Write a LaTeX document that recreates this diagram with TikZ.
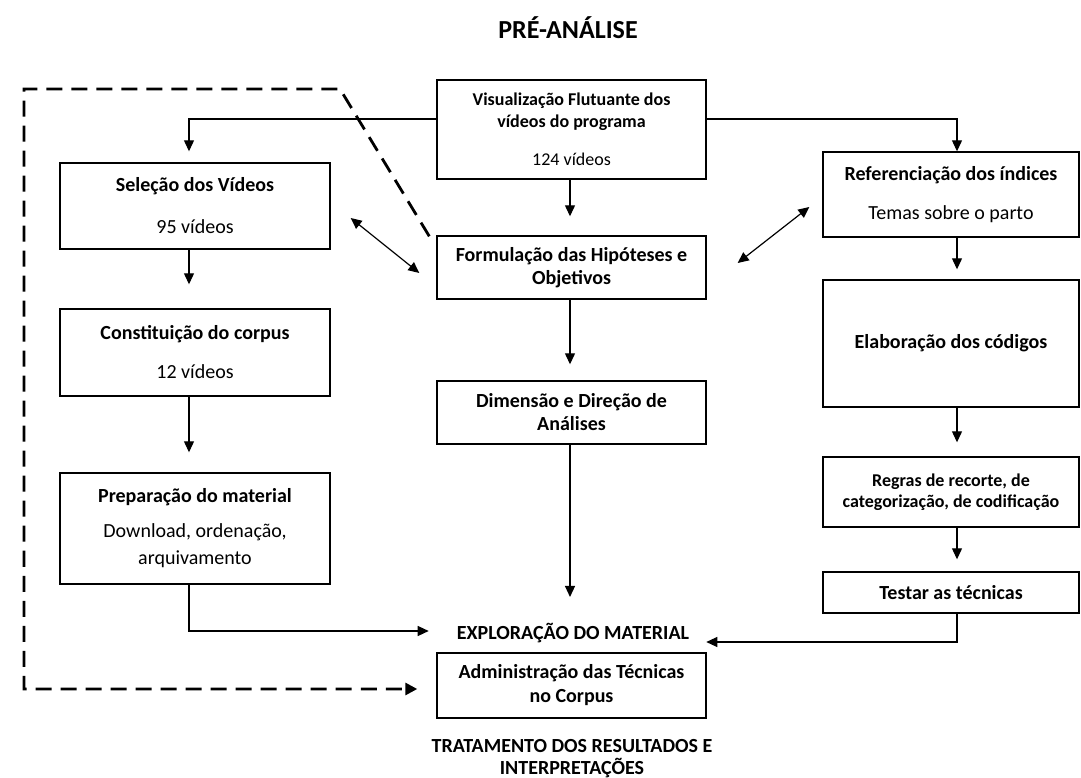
\documentclass[tikz,border=0pt]{standalone}
\usepackage{fontspec}
\setmainfont{Carlito}
\usetikzlibrary{arrows.meta}
\begin{document}
\begin{tikzpicture}[x=1pt,y=-1pt,
  box/.style={draw, line width=1.4pt, inner sep=0pt, align=center, font=\fontsize{20}{23}\selectfont},
  arr/.style={line width=1.2pt, -{Triangle[width=10pt,length=11pt]}},
  darr/.style={line width=1.2pt, {Triangle[width=10pt,length=11pt]}-{Triangle[width=10pt,length=11pt]}},
  dsh/.style={line width=2.8pt, dash pattern=on 16pt off 9pt, -{Triangle[width=12pt,length=12pt]}},
  lbl/.style={inner sep=0pt, align=center, font=\bfseries\fontsize{20}{22}\selectfont}]
\useasboundingbox (0,0) rectangle (1081,778);
\coordinate (cl) at (189,0);
\coordinate (cm) at (570,0);
\coordinate (cr) at (957,0);

\node[lbl, font=\bfseries\fontsize{26}{30}\selectfont] (title) at (568,28) {PRÉ-ANÁLISE};

% middle column
\node[box, minimum width=269pt, minimum height=99pt, font=\fontsize{18}{22}\selectfont] (vis) at (571.5,129.5)
  {\textbf{Visualização Flutuante dos}\\\textbf{vídeos do programa}\\[16pt]124 vídeos};
\node[box, minimum width=269pt, minimum height=63pt] (form) at (571.5,267.5)
  {\textbf{Formulação das Hipóteses e}\\\textbf{Objetivos}};
\node[box, minimum width=269pt, minimum height=63pt] (dim) at (571.5,412.5)
  {\textbf{Dimensão e Direção de}\\\textbf{Análises}};
\node[lbl] (expl) at (573,633) {EXPLORAÇÃO DO MATERIAL};
\node[box, minimum width=269pt, minimum height=65pt, font=\fontsize{20}{24}\selectfont] (adm) at (571.5,685.5)
  {\textbf{Administração das Técnicas}\\\textbf{no Corpus}};
\node[lbl] (trat) at (572,759) {TRATAMENTO DOS RESULTADOS E\\INTERPRETAÇÕES};

% left column
\node[box, minimum width=270pt, minimum height=86pt] (sel) at (195,206)
  {\textbf{Seleção dos Vídeos}\\[19pt]95 vídeos};
\node[box, minimum width=270pt, minimum height=87pt] (con) at (195,352.5)
  {\textbf{Constituição do corpus}\\[16pt]12 vídeos};
\node[box, minimum width=270pt, minimum height=111pt, font=\fontsize{20}{24}\selectfont] (prep) at (195,528.5)
  {\textbf{Preparação do material}\\[11pt]Download, ordenação,\\[3pt]arquivamento};

% right column
\node[box, minimum width=256pt, minimum height=85pt] (ref) at (951,194.5)
  {\textbf{Referenciação dos índices}\\[16pt]Temas sobre o parto};
\node[box, minimum width=256pt, minimum height=127pt] (elab) at (951,343.5)
  {\textbf{Elaboração dos códigos}};
\node[box, minimum width=256pt, minimum height=70pt, font=\fontsize{18}{21}\selectfont] (regr) at (951,492)
  {\textbf{Regras de recorte, de}\\\textbf{categorização, de codificação}};
\node[box, minimum width=256pt, minimum height=41pt] (test) at (951,592.5)
  {\textbf{Testar as técnicas}};

% connectors
\draw[arr, shorten >=11pt] ([yshift=10.5pt]vis.west) -| ([xshift=-6pt]sel.north);
\draw[arr] ([yshift=10.5pt]vis.east) -| ([xshift=6pt]ref.north);
\draw[arr, shorten >=19pt] (vis.south -| cm) -- (form.north -| cm);
\draw[arr, shorten >=16pt] (form.south -| cm) -- (dim.north -| cm);
\draw[arr, shorten >=26pt] (dim.south -| cm) -- (expl.north -| cm);

\draw[arr, shorten >=24pt] (sel.south -| cl) -- (con.north -| cl);
\draw[arr, shorten >=20pt] (con.south -| cl) -- (prep.north -| cl);
\draw[arr, shorten >=28pt] (prep.south -| cl) |- ([yshift=2pt]expl.west);

\draw[arr, shorten >=10pt] (ref.south -| cr) -- (elab.north -| cr);
\draw[arr, shorten >=14pt] (elab.south -| cr) -- (regr.north -| cr);
\draw[arr, shorten >=12pt] (regr.south -| cr) -- (test.north -| cr);
\draw[arr, shorten >=17pt] (test.south -| cr) |- ([yshift=-9pt]expl.east);

\draw[darr] ([xshift=20pt,yshift=-12pt]sel.east) -- ([xshift=-17pt,yshift=-5.5pt]form.west);
\draw[darr] ([xshift=31pt,yshift=4.5pt]form.east) -- ([xshift=-13pt,yshift=-12.5pt]ref.west);

\draw[dsh, shorten >=19pt] ([xshift=-7pt,yshift=-1pt]form.north west) -- (340,89) -- (24,89) -- (24,689) -- ([yshift=-3.5pt]adm.west);
\end{tikzpicture}
\end{document}
